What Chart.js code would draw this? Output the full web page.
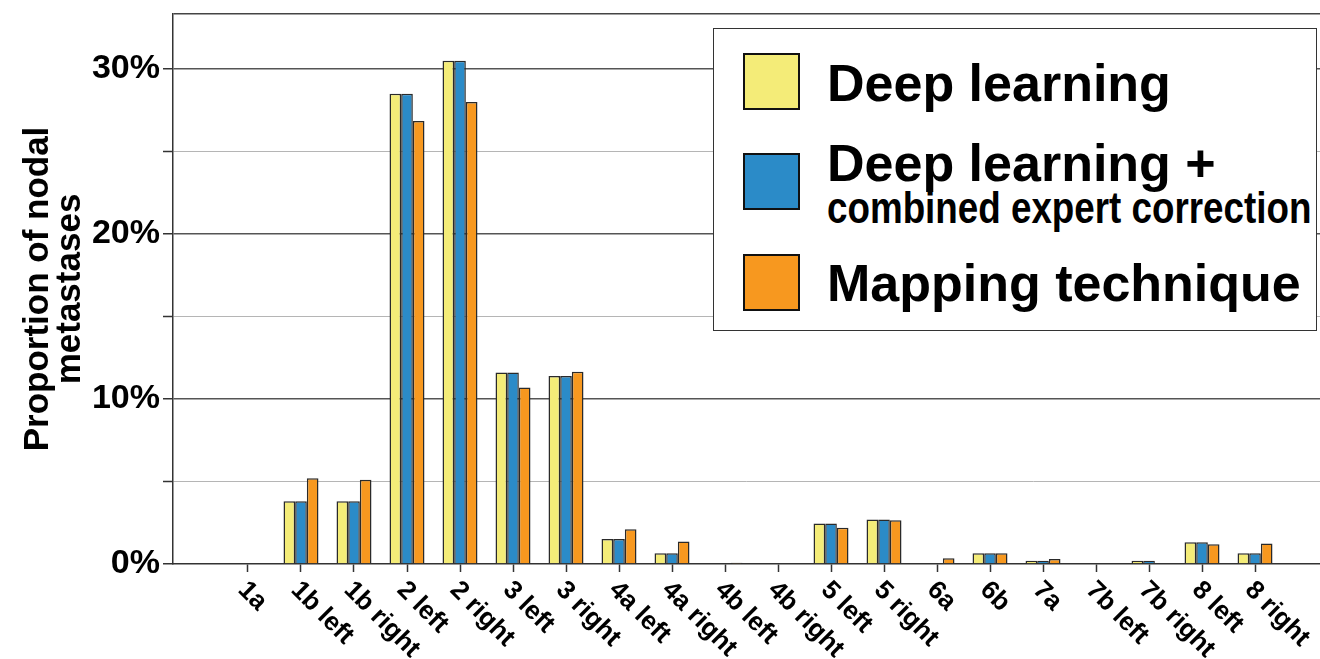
<!DOCTYPE html>
<html>
<head>
<meta charset="utf-8">
<script src="https://cdn.jsdelivr.net/npm/chart.js@4.4.0/dist/chart.umd.min.js"></script>
<style>
  html, body { margin: 0; padding: 0; background: #fff; }
  #wrap { position: relative; width: 1320px; height: 659px; }
  #legend {
    position: absolute; left: 713px; top: 28px; width: 602px; height: 301px;
    border: 1.5px solid #333; background: #fff;
    font-family: "Liberation Sans", Arial, sans-serif; font-weight: bold; color: #000;
  }
  #legend .sw { position: absolute; left: 29px; width: 53px; height: 53px; border: 2.5px solid #111; }
  #legend .txt { position: absolute; left: 113px; white-space: nowrap; font-size: 52px; line-height: 1; }
  #legend .sub { font-size: 44px; transform: scaleX(0.836); transform-origin: 0 0; }
</style>
</head>
<body>
<div id="wrap">
  <canvas id="canvas" width="1320" height="659"></canvas>
  <div id="legend"></div>
</div>
<script>
const categories = ['1a', '1b left', '1b right', '2 left', '2 right', '3 left', '3 right',
  '4a left', '4a right', '4b left', '4b right', '5 left', '5 right', '6a', '6b', '7a',
  '7b left', '7b right', '8 left', '8 right'];

// proportion of nodal metastases, %
const deepLearning = [0, 3.8, 3.8, 28.5, 30.5, 11.6, 11.4, 1.52, 0.65, 0, 0, 2.45, 2.7, 0, 0.65, 0.2, 0, 0.2, 1.32, 0.65];
const deepLearningCorrected = [0, 3.8, 3.8, 28.5, 30.5, 11.6, 11.4, 1.52, 0.65, 0, 0, 2.45, 2.7, 0, 0.65, 0.2, 0, 0.2, 1.32, 0.65];
const mappingTechnique = [0.05, 5.2, 5.1, 26.85, 28.0, 10.7, 11.65, 2.1, 1.36, 0.08, 0.04, 2.2, 2.65, 0.35, 0.65, 0.3, 0, 0, 1.2, 1.24];

const yTicks = [0, 5, 10, 15, 20, 25, 30];
const yMax = 33.33;

const series = [
  { label: 'Deep learning', data: deepLearning, color: '#f4ec78' },
  { label: 'Deep learning +', sub: 'combined expert correction', data: deepLearningCorrected, color: '#2b8bc8' },
  { label: 'Mapping technique', data: mappingTechnique, color: '#f7981f' }
];

const FONT = '"Liberation Sans", Arial, sans-serif';

// rotated category labels (going down to the right from each tick)
const xLabels = {
  id: 'xLabels',
  afterDraw(chart) {
    const ctx = chart.ctx;
    const x = chart.scales.x;
    ctx.save();
    ctx.font = 'bold 26px ' + FONT;
    ctx.fillStyle = '#000';
    ctx.textAlign = 'left';
    ctx.textBaseline = 'middle';
    categories.forEach((c, i) => {
      const px = x.getPixelForValue(i);
      ctx.save();
      ctx.translate(px - 6, x.top + 22);
      ctx.rotate(Math.PI / 4);
      ctx.fillText(c, 0, 0);
      ctx.restore();
    });
    ctx.restore();
  }
};

new Chart(document.getElementById('canvas'), {
  type: 'bar',
  data: {
    datasets: series.map(s => ({
      label: s.label,
      data: s.data.map((v, i) => ({ x: i, y: v })),
      backgroundColor: s.color,
      borderColor: '#2a2a2a',
      borderWidth: 1.5,
      categoryPercentage: 0.66,
      barPercentage: 1.0
    }))
  },
  options: {
    responsive: false,
    animation: false,
    layout: { padding: { top: 14, bottom: 87, left: 0, right: 0 } },
    plugins: { legend: { display: false }, tooltip: { enabled: false } },
    scales: {
      x: {
        type: 'linear',
        offset: false,
        min: -1.415,
        max: 20.226,
        afterBuildTicks: s => { s.ticks = categories.map((_, i) => ({ value: i })); },
        ticks: { display: false },
        grid: { offset: false, drawOnChartArea: false, drawTicks: true, tickLength: 8, tickWidth: 1.5, tickColor: '#333' },
        border: { color: '#333', width: 1.5 }
      },
      y: {
        min: 0,
        max: yMax,
        afterBuildTicks: s => { s.ticks = yTicks.concat([yMax]).map(v => ({ value: v })); },
        afterFit: s => { s.width = 173; s.paddingTop = 0; s.paddingBottom = 0; },
        ticks: {
          padding: 3,
          color: '#000',
          font: { family: FONT, size: 34, weight: 'bold' },
          callback: v => (v % 10 === 0 ? v + '%' : '')
        },
        grid: {
          tickLength: 10,
          color: c => {
            const v = c.tick.value;
            if (v === 0) return 'rgba(0,0,0,0)';
            if (v === yMax) return '#444';
            return v % 10 === 0 ? '#555' : '#b5b5b5';
          },
          lineWidth: c => (c.tick.value % 10 === 0 || c.tick.value === yMax ? 1.5 : 1),
          tickColor: c => (c.tick.value === yMax ? 'rgba(0,0,0,0)' : '#333'),
          tickWidth: 1.5
        },
        border: { color: '#333', width: 1.5 },
        title: {
          display: true,
          text: ['Proportion of nodal', 'metastases'],
          color: '#000',
          font: { family: FONT, size: 35, weight: 'bold', lineHeight: 0.92 },
          padding: { top: 22, bottom: 0 }
        }
      }
    }
  },
  plugins: [xLabels]
});

// legend box
const legend = document.getElementById('legend');
const swTops = [24, 124, 225];
const txtTops = [28, 108, 228];
series.forEach((s, i) => {
  const sw = document.createElement('div');
  sw.className = 'sw';
  sw.style.top = swTops[i] + 'px';
  sw.style.background = s.color;
  legend.appendChild(sw);
  const t = document.createElement('div');
  t.className = 'txt';
  t.style.top = txtTops[i] + 'px';
  t.textContent = s.label;
  legend.appendChild(t);
  if (s.sub) {
    const st = document.createElement('div');
    st.className = 'txt sub';
    st.style.top = '157px';
    st.textContent = s.sub;
    legend.appendChild(st);
  }
});
</script>
</body>
</html>
